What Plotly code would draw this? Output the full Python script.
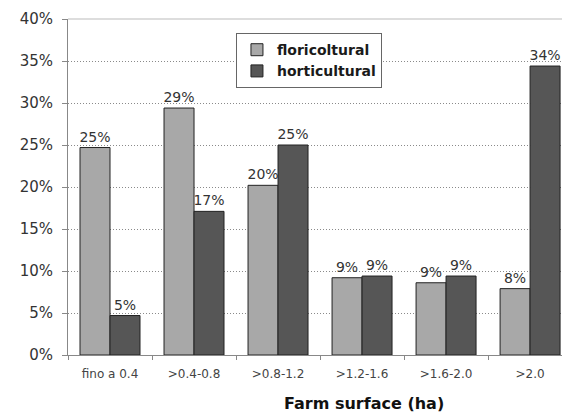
import plotly.graph_objects as go

categories = ["fino a 0.4", ">0.4-0.8", ">0.8-1.2", ">1.2-1.6", ">1.6-2.0", ">2.0"]
floricoltural = [24.7, 29.4, 20.2, 9.2, 8.6, 7.9]
horticultural = [4.7, 17.1, 25.0, 9.4, 9.4, 34.4]
y_ticks = [0, 5, 10, 15, 20, 25, 30, 35, 40]

FONT = "DejaVu Sans"

fig = go.Figure()
fig.add_trace(go.Bar(
    name="floricoltural", x=categories, y=floricoltural,
    marker=dict(color="#a8a8a8", line=dict(color="#222222", width=1)),
    text=floricoltural, texttemplate="%{y:.0f}%", textposition="outside",
    constraintext="none",
    textfont=dict(family=FONT, size=14, color="#333333"), cliponaxis=False,
))
fig.add_trace(go.Bar(
    name="horticultural", x=categories, y=horticultural,
    marker=dict(color="#565656", line=dict(color="#222222", width=1)),
    text=horticultural, texttemplate="%{y:.0f}%", textposition="outside",
    constraintext="none",
    textfont=dict(family=FONT, size=14, color="#333333"), cliponaxis=False,
))

fig.update_layout(
    width=562, height=413,
    margin=dict(l=68, r=0, t=19, b=58),
    paper_bgcolor="white", plot_bgcolor="white",
    barmode="group", bargap=0.286, bargroupgap=0,
    font=dict(family=FONT, color="#333333"),
    showlegend=True,
    legend=dict(
        x=0.34, y=0.958, xanchor="left", yanchor="top",
        bgcolor="white", bordercolor="#666666", borderwidth=1,
        font=dict(family=FONT, size=14, color="#1a1a1a", weight="bold"),
        itemwidth=30, tracegroupgap=2,
    ),
    xaxis=dict(
        range=[-0.5, 5.38],
        showline=True, linecolor="#888888", linewidth=1,
        ticks="outside", tickson="boundaries", ticklen=4, tickcolor="#888888",
        tickfont=dict(family=FONT, size=12, color="#444444"),
        ticklabelstandoff=8,
        fixedrange=True,
    ),
    yaxis=dict(
        range=[0, 40], tickvals=y_ticks, ticktext=[f"{v}%" for v in y_ticks],
        showline=True, linecolor="#888888", linewidth=1,
        ticks="outside", ticklen=5, tickcolor="#888888",
        showgrid=True, gridcolor="#8a8a8a", griddash="1px,2px", gridwidth=1,
        zeroline=False,
        tickfont=dict(family=FONT, size=15, color="#333333"),
        ticklabelstandoff=6,
    ),
)

# x-axis title
fig.add_annotation(
    text="<b>Farm surface (ha)</b>", xref="paper", yref="paper",
    x=0.6, y=-0.143, xanchor="center", yanchor="middle", showarrow=False,
    font=dict(family=FONT, size=16, color="#111111"),
)

fig.add_shape(type="line", xref="paper", yref="paper", x0=0, x1=1, y0=1, y1=1,
              line=dict(color="#bbbbbb", width=1))

fig.write_html("out.html")
